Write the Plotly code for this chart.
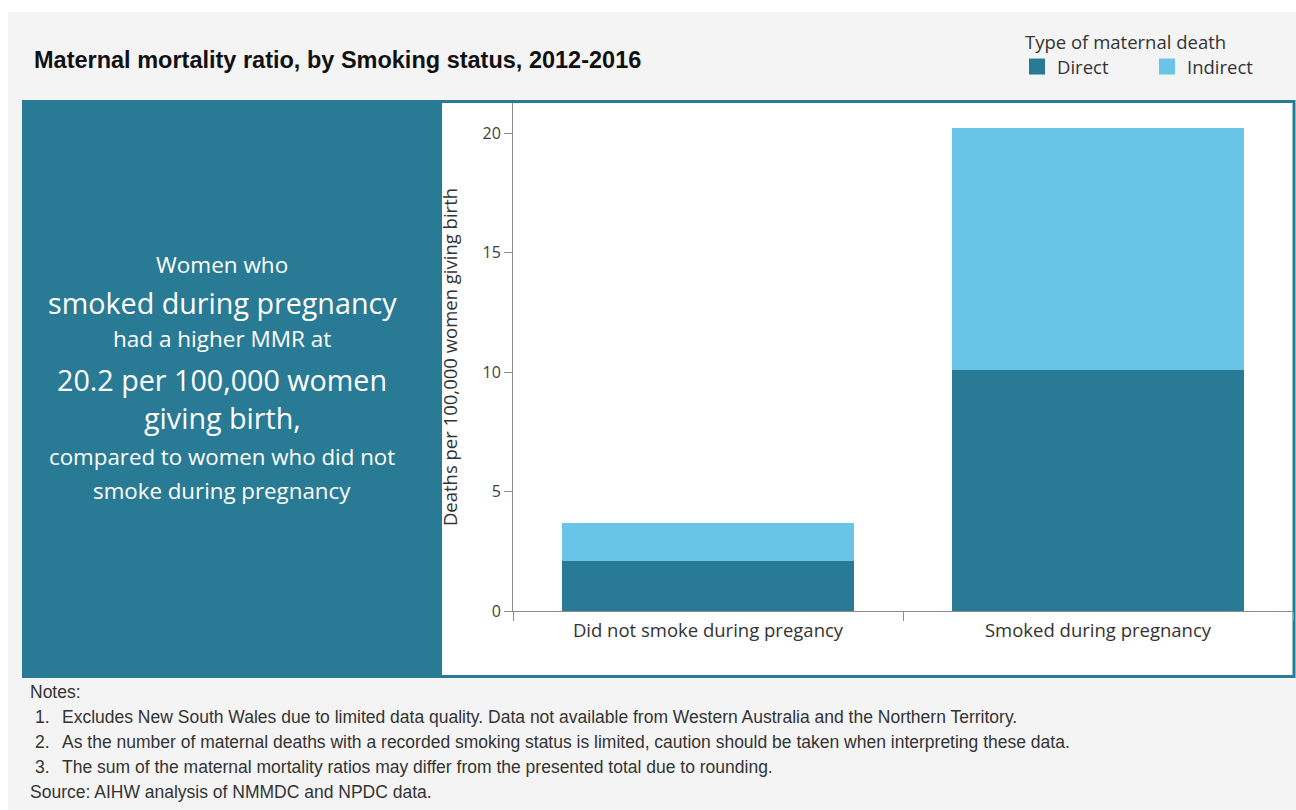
import plotly.graph_objects as go

# Data
categories = ["Did not smoke during pregancy", "Smoked during pregnancy"]
direct = [2.1, 10.1]
indirect = [1.6, 10.1]
y_ticks = [0, 5, 10, 15, 20]

TEAL = "#297b95"
LIGHT = "#68c5e7"
GREY_BG = "#f4f4f4"
TEXT = "#333333"

W, H = 1296, 810
# plot area in pixels
PL, PR, PT, PB = 513, 1293, 103, 611


def px(x):
    return (x - PL) / (PR - PL)


def py(y):
    return (PB - y) / (PB - PT)


fig = go.Figure()
fig.add_trace(go.Bar(x=categories, y=direct, name="Direct", marker=dict(color=TEAL, line=dict(width=0)),
                     showlegend=False, hoverinfo="y"))
fig.add_trace(go.Bar(x=categories, y=indirect, name="Indirect", marker=dict(color=LIGHT, line=dict(width=0)),
                     showlegend=False, hoverinfo="y"))
# legend entries with larger square swatches
fig.add_trace(go.Scatter(x=[None], y=[None], mode="markers", name="Direct",
                         marker=dict(symbol="square", size=16, color=TEAL)))
fig.add_trace(go.Scatter(x=[None], y=[None], mode="markers", name="Indirect",
                         marker=dict(symbol="square", size=16, color=LIGHT)))

shapes = [
    # grey page panel
    dict(type="rect", xref="paper", yref="paper", x0=px(8), x1=px(1296), y0=py(12), y1=py(810),
         fillcolor=GREY_BG, line=dict(width=0), layer="below"),
    # teal frame and side panel
    dict(type="rect", xref="paper", yref="paper", x0=px(22), x1=px(1295.5), y0=py(100), y1=py(678),
         fillcolor=TEAL, line=dict(width=0), layer="below"),
    # white chart area
    dict(type="rect", xref="paper", yref="paper", x0=px(442), x1=px(1292.5), y0=py(103), y1=py(675),
         fillcolor="white", line=dict(width=0), layer="below"),
]

annotations = []


def note(text, x, y, size, color=TEXT, xanchor="left", family="Liberation Sans", bold=False):
    if bold:
        text = "<b>" + text + "</b>"
    annotations.append(dict(text=text, x=px(x), y=py(y), xref="paper", yref="paper",
                            xanchor=xanchor, yanchor="middle", showarrow=False,
                            font=dict(size=size, color=color, family=family)))


note("Maternal mortality ratio, by Smoking status, 2012-2016", 32, 60, 23.5, color="#111111", bold=True)
note("Type of maternal death", 1023, 41, 18.5, family="Open Sans")

# side panel message
CX = 222
PANEL_FONT = "Open Sans"
panel_lines = [
    ("Women who", 264, 22.5),
    ("smoked during pregnancy", 302, 28.7),
    ("had a higher MMR at", 338, 22.5),
    ("20.2 per 100,000 women", 380, 28.7),
    ("giving birth,", 417, 28.7),
    ("compared to women who did not", 456, 22.3),
    ("smoke during pregnancy", 490, 22.3),
]
for txt, yy, sz in panel_lines:
    note(txt, CX, yy, sz, color="white", xanchor="center", family=PANEL_FONT)

# notes block
NS = 17.5
note("Notes:", 28, 692, NS)
notes = [
    "Excludes New South Wales due to limited data quality. Data not available from Western Australia and the Northern Territory.",
    "As the number of maternal deaths with a recorded smoking status is limited, caution should be taken when interpreting these data.",
    "The sum of the maternal mortality ratios may differ from the presented total due to rounding.",
]
for i, t in enumerate(notes):
    yy = 717 + 25 * i
    note(f"{i + 1}.", 33, yy, NS)
    note(t, 60, yy, NS)
note("Source: AIHW analysis of NMMDC and NPDC data.", 28, 792, NS)

fig.update_layout(
    width=W, height=H,
    margin=dict(l=PL, r=W - PR, t=PT, b=H - PB, pad=0),
    paper_bgcolor="white",
    plot_bgcolor="rgba(0,0,0,0)",
    barmode="stack",
    bargap=0.25,
    font=dict(family="Open Sans", color="#404040"),
    shapes=shapes,
    annotations=annotations,
    legend=dict(
        orientation="h", x=px(1017), y=py(48), xanchor="left", yanchor="top",
        traceorder="normal",
        font=dict(size=18.5, color=TEXT, family="Open Sans"),
        bgcolor="rgba(0,0,0,0)", entrywidth=85, entrywidthmode="pixels",
        itemsizing="trace",
    ),
    xaxis=dict(
        type="category", showline=True, linecolor="#8c8c8c", linewidth=1,
        ticks="outside", tickson="boundaries", ticklen=9, tickcolor="#8c8c8c",
        tickfont=dict(size=18.5, color="#333333", family="Open Sans"),
        ticklabelstandoff=3,
        showgrid=False, zeroline=False, fixedrange=True,
    ),
    yaxis=dict(
        range=[0, (PB - PT) / 23.9], tickvals=y_ticks, showline=True, linecolor="#8c8c8c", linewidth=1,
        ticks="outside", ticklen=8, tickcolor="#8c8c8c",
        tickfont=dict(size=16, color="#404040", family="Open Sans"),
        showgrid=False, zeroline=False, fixedrange=True,
        title=dict(text="Deaths per 100,000 women giving birth", standoff=20,
                   font=dict(size=18.5, color="#333333", family="Open Sans")),
    ),
)

fig.write_html("out.html")
